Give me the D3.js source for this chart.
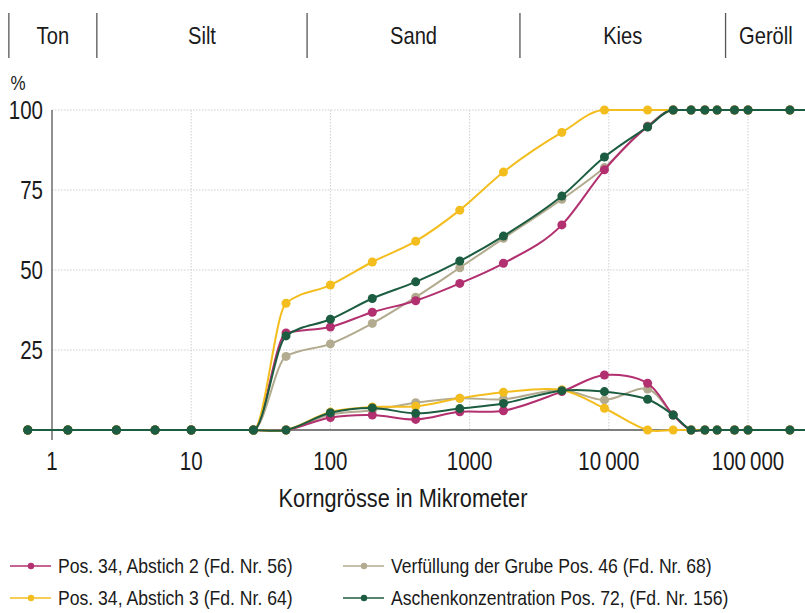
<!DOCTYPE html>
<meta charset="utf-8">
<style>

    body {
        margin: 0;
        background: #fff;
    }

    text {
        font-family: "Liberation Sans", Arial, sans-serif;
        fill: #1a1a1a;
    }

    .grid line {
        stroke: #cfcfcf;
        stroke-width: 1px;
        stroke-dasharray: 1.5, 1.5;
    }

    .series path {
        fill: none;
        stroke-width: 2px;
    }

</style>
<svg width="805" height="613"></svg>
<script src="https://d3js.org/d3.v7.min.js"></script>
<script>

    // grain sizes in micrometer
    var sizes = [0.67, 1.3, 2.9, 5.5, 10, 28, 48, 100, 200, 410, 850, 1750, 4600, 9300, 19000,
        29000, 39000, 49000, 60000, 80000, 100000, 200000, 400000];

    // cumulative curves (%)
    var cumAbstich2 = [0, 0, 0, 0, 0, 0, 30.3, 32.2, 36.8, 40.4, 45.8, 52.1, 64.1, 81.3, 94.8,
        100, 100, 100, 100, 100, 100, 100, 100];
    var cumAbstich3 = [0, 0, 0, 0, 0, 0, 39.6, 45.3, 52.5, 59, 68.7, 80.6, 93, 100, 100,
        100, 100, 100, 100, 100, 100, 100, 100];
    var cumGrube = [0, 0, 0, 0, 0, 0, 23, 26.9, 33.3, 41.5, 50.7, 59.9, 72.1, 82, 95,
        100, 100, 100, 100, 100, 100, 100, 100];
    var cumAsche = [0, 0, 0, 0, 0, 0, 29.4, 34.6, 41.1, 46.3, 52.8, 60.6, 73.1, 85.3, 94.7,
        100, 100, 100, 100, 100, 100, 100, 100];

    // fraction curves (%)
    var fracAbstich2 = [0, 0, 0, 0, 0, 0, 0, 3.9, 4.7, 3.3, 5.7, 6, 12, 17.2, 14.6,
        4.7, 0, 0, 0, 0, 0, 0, 0];
    var fracAbstich3 = [0, 0, 0, 0, 0, 0, 0, 5.6, 7.2, 7.4, 9.9, 11.8, 12.5, 6.8, 0,
        0, 0, 0, 0, 0, 0, 0, 0];
    var fracGrube = [0, 0, 0, 0, 0, 0, 0, 4.8, 6.2, 8.5, 9.9, 9.6, 12.5, 9.4, 12.8,
        4.7, 0, 0, 0, 0, 0, 0, 0];
    var fracAsche = [0, 0, 0, 0, 0, 0, 0, 5.4, 6.9, 5.2, 6.7, 8.3, 12.3, 12, 9.6,
        4.7, 0, 0, 0, 0, 0, 0, 0];

    var seriesNames = ["Pos. 34, Abstich 2 (Fd. Nr. 56)", "Pos. 34, Abstich 3 (Fd. Nr. 64)",
        "Verfüllung der Grube Pos. 46 (Fd. Nr. 68)", "Aschenkonzentration Pos. 72, (Fd. Nr. 156)"];
    var seriesColors = ["#b2306f", "#f3bd1e", "#b3ab8f", "#1c5c40"];

    var xTicks = [1, 10, 100, 1000, 10000, 100000];
    var xTickLabels = ["1", "10", "100", "1000", "10\u2009000", "100\u2009000"];
    var yTicks = [25, 50, 75, 100];

    // soil classes and their borders (micrometer)
    var zoneNames = ["Ton", "Silt", "Sand", "Kies", "Geröll"];
    var zoneBorders = [0.49, 2.1, 68, 2300, 69000, 262000];

    var svg = d3.select("svg"),
        width = +svg.attr("width"),
        height = +svg.attr("height");

    var x = d3.scaleLog().domain([1, 100000]).range([52, 748]);
    var y = d3.scaleLinear().domain([0, 100]).range([430, 110]);

    // condensed look: a regular face squeezed horizontally
    function label(parent, px, py, size, squeeze, anchor, str) {
        return parent.append("text")
            .attr("transform", "translate(" + px + "," + py + ") scale(" + squeeze + ",1)")
            .attr("text-anchor", anchor)
            .style("font-size", size + "px")
            .text(str);
    }

    svg.append("clipPath").attr("id", "clip")
        .append("rect").attr("x", 0).attr("y", 90).attr("width", width).attr("height", 360);

    // class band at the top
    var band = svg.append("g");
    band.selectAll("line")
        .data(zoneBorders)
        .enter().append("line")
        .attr("x1", function (d) { return x(d); })
        .attr("x2", function (d) { return x(d); })
        .attr("y1", 13).attr("y2", 58)
        .attr("stroke", "#555").attr("stroke-width", 1.3);
    zoneNames.forEach(function (name, i) {
        label(band, (x(zoneBorders[i]) + x(zoneBorders[i + 1])) / 2, 44, 24, 0.84, "middle", name);
    });

    // grid
    var grid = svg.append("g").attr("class", "grid");
    grid.selectAll(".v")
        .data(xTicks.slice(1))
        .enter().append("line")
        .attr("x1", function (d) { return x(d); })
        .attr("x2", function (d) { return x(d); })
        .attr("y1", y(100)).attr("y2", y(0));
    grid.selectAll(".h")
        .data(yTicks)
        .enter().append("line")
        .attr("x1", x(1)).attr("x2", x(100000))
        .attr("y1", function (d) { return y(d); })
        .attr("y2", function (d) { return y(d); });

    // axes
    svg.append("line")
        .attr("x1", x(1)).attr("x2", width)
        .attr("y1", y(0)).attr("y2", y(0))
        .attr("stroke", "#555").attr("stroke-width", 1.3);
    svg.append("line")
        .attr("x1", x(1)).attr("x2", x(1))
        .attr("y1", y(100)).attr("y2", y(0) + 10)
        .attr("stroke", "#555").attr("stroke-width", 1.3);

    xTicks.forEach(function (t, i) {
        label(svg, x(t), 470, 25, 0.82, "middle", xTickLabels[i]);
    });
    yTicks.forEach(function (t) {
        label(svg, 43, y(t) + 9, 25, 0.82, "end", t);
    });
    label(svg, 18, 90, 20, 0.85, "middle", "%");
    label(svg, 403, 507, 25, 0.87, "middle", "Korngrösse in Mikrometer");

    // series, drawn back to front
    var cum = [cumAbstich2, cumAbstich3, cumGrube, cumAsche];
    var frac = [fracAbstich2, fracAbstich3, fracGrube, fracAsche];
    var order = [2, 0, 1, 3];

    var cumLine = d3.line()
        .x(function (d) { return x(d[0]); })
        .y(function (d) { return y(d[1]); })
        .curve(d3.curveMonotoneX);
    var fracLine = d3.line()
        .x(function (d) { return x(d[0]); })
        .y(function (d) { return y(d[1]); })
        .curve(d3.curveCatmullRom.alpha(0.5));

    var plot = svg.append("g").attr("clip-path", "url(#clip)");

    order.forEach(function (k) {
        var g = plot.append("g").attr("class", "series");
        [[cum[k], cumLine], [frac[k], fracLine]].forEach(function (c) {
            var pts = sizes.map(function (s, i) { return [s, c[0][i]]; });
            g.append("path")
                .attr("d", c[1](pts))
                .attr("stroke", seriesColors[k]);
            g.selectAll(null)
                .data(pts)
                .enter().append("circle")
                .attr("cx", function (d) { return x(d[0]); })
                .attr("cy", function (d) { return y(d[1]); })
                .attr("r", 4.5)
                .attr("fill", seriesColors[k]);
        });
    });

    // legend
    var legend = svg.append("g");
    var legX = [10, 343], legY = [566, 598];
    seriesNames.forEach(function (name, i) {
        var col = i < 2 ? 0 : 1, row = i % 2;
        var lg = legend.append("g")
            .attr("transform", "translate(" + legX[col] + "," + legY[row] + ")");
        lg.append("line")
            .attr("x1", 0).attr("x2", 41)
            .attr("stroke", seriesColors[i]).attr("stroke-width", 1.5);
        lg.append("circle")
            .attr("cx", 21).attr("r", 3.2)
            .attr("fill", seriesColors[i]);
        label(lg, 48, 7, 20, 0.88, "start", name);
    });

</script>
